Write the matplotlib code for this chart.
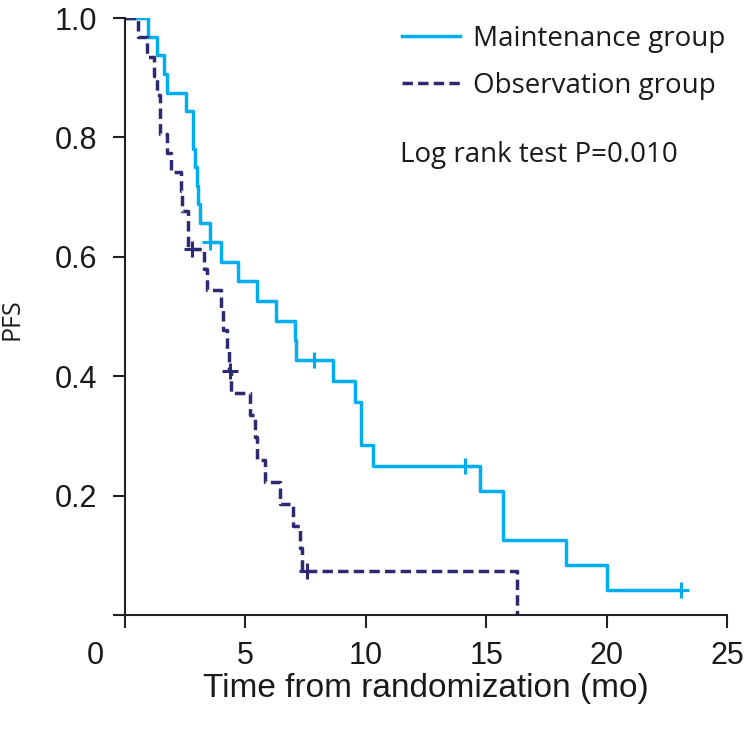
import numpy as np
import matplotlib
matplotlib.use("Agg")
import matplotlib.pyplot as plt
import matplotlib.transforms as mtransforms

# step curves (time in months, PFS)
maint_t = [0, 0.97, 1.34, 1.63, 1.73, 2.54, 2.84, 2.91, 2.98, 3.05, 3.12, 3.55, 4.00, 4.71,
           5.50, 6.28, 7.07, 7.12, 8.65, 9.56, 9.80, 10.30, 14.76, 15.70, 18.30, 20.00, 23.10]
maint_s = [1.0, 0.969, 0.938, 0.906, 0.875, 0.844, 0.781, 0.750, 0.719, 0.688, 0.656, 0.625, 0.592, 0.559,
           0.526, 0.493, 0.460, 0.427, 0.392, 0.356, 0.285, 0.249, 0.208, 0.125, 0.083, 0.042, 0.042]
maint_cens_t = [3.55, 7.86, 14.10, 23.10]
maint_cens_s = [0.625, 0.427, 0.249, 0.042]

obs_t = [0, 0.55, 0.90, 1.22, 1.34, 1.46, 1.73, 1.90, 2.31, 2.38, 2.63, 3.26, 3.40, 3.98, 4.08,
         4.25, 4.30, 4.42, 5.20, 5.40, 5.50, 5.80, 6.42, 6.97, 7.28, 7.37, 16.28]
obs_s = [1.0, 0.968, 0.935, 0.903, 0.871, 0.806, 0.774, 0.742, 0.710, 0.677, 0.613, 0.579, 0.545, 0.511, 0.477,
         0.443, 0.409, 0.372, 0.335, 0.298, 0.260, 0.223, 0.186, 0.149, 0.112, 0.074, 0.0]
obs_cens_t = [2.77, 4.35, 7.55]
obs_cens_s = [0.613, 0.409, 0.074]

xticks = [0, 5, 10, 15, 20, 25]
yticks = [0, 0.2, 0.4, 0.6, 0.8, 1.0]
ytick_labels = ["", "0.2", "0.4", "0.6", "0.8", "1.0"]

cyan = "#00AEEF"
navy = "#2E2A72"
tick_font = ["Liberation Sans", "DejaVu Sans"]
legend_font = ["Open Sans", "DejaVu Sans"]

fig = plt.figure(figsize=(7.46, 7.30), dpi=100)
ax = fig.add_axes([125/746, 115/730, 602/746, 597/730])

ax.step(maint_t, maint_s, where="post", color=cyan, lw=2.5, label="Maintenance group")
ax.step(obs_t, obs_s, where="post", color=navy, lw=2.5, linestyle=(0, (3.0, 1.5)),
        label="Observation group")
ax.plot(maint_cens_t, maint_cens_s, ls="none", marker="+", ms=12, mew=2.2, color=cyan)
ax.plot(obs_cens_t, obs_cens_s, ls="none", marker="+", ms=12, mew=2.2, color=navy)

ax.set_xlim(0, 25)
ax.set_ylim(0, 1.0)
for s in ["top", "right"]:
    ax.spines[s].set_visible(False)
for s in ["left", "bottom"]:
    ax.spines[s].set_linewidth(1.5)
    ax.spines[s].set_color("#222222")

ax.set_xticks(xticks)
ax.set_xticklabels([str(v) for v in xticks], family=tick_font, fontsize=22)
ax.set_yticks(yticks)
ax.set_yticklabels(ytick_labels, family=tick_font, fontsize=22)
ax.tick_params(axis="both", length=9, width=1.5, color="#222222", labelcolor="#1a1a1a")
ax.tick_params(axis="x", pad=10)
ax.tick_params(axis="y", pad=11)

# the "0" label sits left of its tick in the reference
lab0 = ax.get_xticklabels()[0]
lab0.set_transform(lab0.get_transform() + mtransforms.ScaledTranslation(-0.30, 0, fig.dpi_scale_trans))

ax.set_xlabel("Time from randomization (mo)", family=tick_font, fontsize=24, color="#1a1a1a", labelpad=1)
ax.set_ylabel("PFS", family=legend_font, fontsize=18, color="#1a1a1a")
ax.yaxis.label.set_va("center")
ax.yaxis.set_label_coords(-0.188, 0.495)

leg = ax.legend(loc="upper left", bbox_to_anchor=(402/746, 1 - 25/730), bbox_transform=fig.transFigure,
                frameon=False, handlelength=2.1, handletextpad=0.45, labelspacing=0.68,
                borderpad=0, borderaxespad=0, prop={"family": legend_font, "size": 20})
for t in leg.get_texts():
    t.set_color("#1a1a1a")

fig.text(400/746, 1 - 155/730, "Log rank test P=0.010", family=legend_font, fontsize=20,
         color="#1a1a1a", va="center", ha="left")

fig.savefig("out.png", dpi=100)
